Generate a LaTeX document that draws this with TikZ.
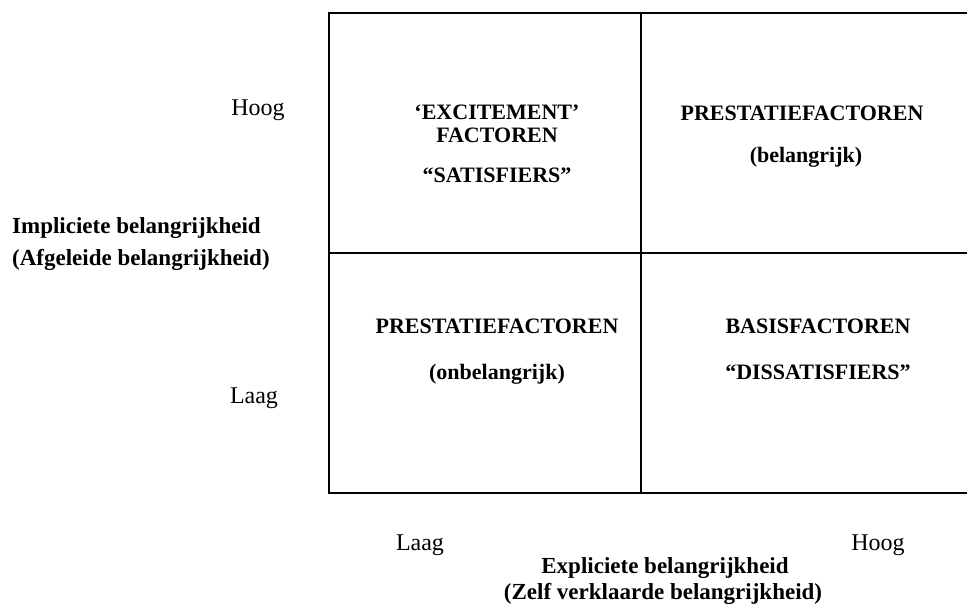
\documentclass[tikz,border=0pt]{standalone}
\usepackage{fontspec}
\setmainfont{Liberation Serif}
\begin{document}
\begin{tikzpicture}[x=1pt,y=-1pt,
  cell/.style={font=\fontsize{22}{26}\selectfont\bfseries, inner sep=0pt, anchor=center},
  axislabel/.style={font=\fontsize{23}{28}\selectfont\bfseries, inner sep=0pt},
  level/.style={font=\fontsize{24}{28}\selectfont, inner sep=0pt},
  gridline/.style={line width=2pt, black}]
\useasboundingbox (0,0) rectangle (967,608);

% table frame (right side runs off the page)
\coordinate (tl) at (329,13);
\coordinate (tr) at (967,13);
\coordinate (ml) at (329,253);
\coordinate (mr) at (967,253);
\coordinate (bl) at (329,493);
\coordinate (br) at (967,493);
\coordinate (tm) at (641,13);
\coordinate (bm) at (641,493);
\draw[gridline] (tr) -- (tl) -- (bl) -- (br);
\draw[gridline] (tm) -- (bm);
\draw[gridline] (ml) -- (mr);

% quadrant texts
\node[cell] (exc) at (497,112) {‘EXCITEMENT’};
\node[cell] (fac) at (497,135) {FACTOREN};
\node[cell] (sat) at (497,175) {“SATISFIERS”};
\node[cell] (pr1) at (802,113) {PRESTATIEFACTOREN};
\node[cell] (bel) at (806,157) {(belangrijk)};
\node[cell] (pr2) at (497,326) {PRESTATIEFACTOREN};
\node[cell] (onb) at (497,374) {(onbelangrijk)};
\node[cell] (bas) at (818,326) {BASISFACTOREN};
\node[cell] (dis) at (818,372) {“DISSATISFIERS”};

% vertical axis
\node[level] (yhi) at (258,110) {Hoog};
\node[level] (ylo) at (254,398) {Laag};
\node[axislabel, anchor=west] (ylab1) at (12,228) {Impliciete belangrijkheid};
\node[axislabel, anchor=west] (ylab2) at (12,260) {(Afgeleide belangrijkheid)};

% horizontal axis
\node[level] (xlo) at (420,545) {Laag};
\node[level] (xhi) at (878,545) {Hoog};
\node[axislabel] (xlab1) at (665,568) {Expliciete belangrijkheid};
\node[axislabel] (xlab2) at (663,594) {(Zelf verklaarde belangrijkheid)};
\end{tikzpicture}
\end{document}
